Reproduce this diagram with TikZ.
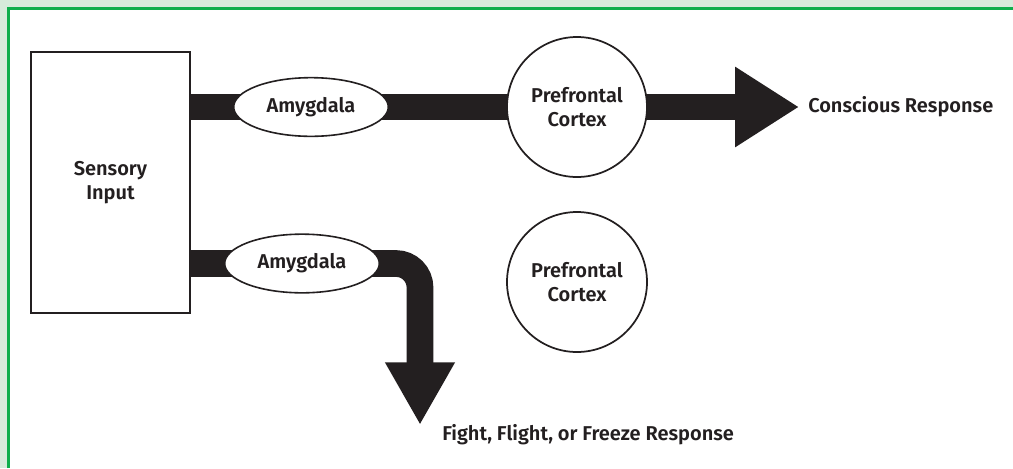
\documentclass[tikz,border=0pt]{standalone}
\usepackage{fontspec}
\setmainfont{Fira Sans}[BoldFont={* SemiBold}]
\usetikzlibrary{arrows.meta,positioning,backgrounds,shapes.geometric}
\definecolor{ink}{HTML}{231F20}
\definecolor{pagegreen}{HTML}{D6EBDB}
\definecolor{rulegreen}{HTML}{0DAE4B}
\tikzset{
	lbl/.style={font=\fontsize{15}{17.5}\selectfont\bfseries, text=ink, align=center},
	inbox/.style={lbl, draw=ink, line width=1.5pt, fill=white, minimum width=119pt, minimum height=196pt},
	amyg/.style={lbl, ellipse, draw=ink, line width=1.2pt, fill=white, minimum width=116pt, minimum height=44pt, inner sep=0pt},
	cortex/.style={lbl, circle, draw=ink, line width=1.3pt, fill=white, minimum size=105pt, inner sep=0pt},
	resp/.style={lbl, inner sep=0pt, anchor=west},
	pathway/.style={ink, line width=20pt},
}
\begin{document}
\begin{tikzpicture}[x=0.75pt, y=-0.75pt]
	\useasboundingbox (0,0) rectangle (1013,468);
	\node[inbox] (input) at (110.5,182.5) {Sensory\\Input};
	\node[amyg] (amyA) at (311,107) {Amygdala};
	\node[cortex] (pfcA) at (577,107) {Prefrontal\\Cortex};
	\node[amyg] (amyB) at (302,263.5) {Amygdala};
	\node[cortex] (pfcB) at (577,282) {Prefrontal\\Cortex};
	\coordinate (tipA) at (799,107);
	\coordinate (bend) at (420,263.5);
	\coordinate (tipB) at (420,425);
	\node[resp] (conscious) at (808,107) {Conscious Response};
	\node[resp] (fff) at (442,435) {Fight, Flight, or Freeze Response};
	\begin{scope}[on background layer]
		% green margin on top and left only
		\fill[white] (0,0) rectangle (1013,468);
		\fill[pagegreen] (0,0) rectangle (1013,8.5);
		\fill[pagegreen] (0,0) rectangle (8.5,468);
		\draw[rulegreen, line width=2.2pt] (8.5,468) -- (8.5,8.5) -- (1013,8.5);
		\draw[pathway, -{Triangle[length=48pt,width=57pt]}] (input.east |- amyA) -- (amyA.center) -- (pfcA.center) -- (tipA);
		\draw[pathway, rounded corners=18pt, -{Triangle[length=47pt,width=49pt]}] (input.east |- amyB) -- (amyB.center) -- (bend) -- (tipB);
	\end{scope}
\end{tikzpicture}
\end{document}
